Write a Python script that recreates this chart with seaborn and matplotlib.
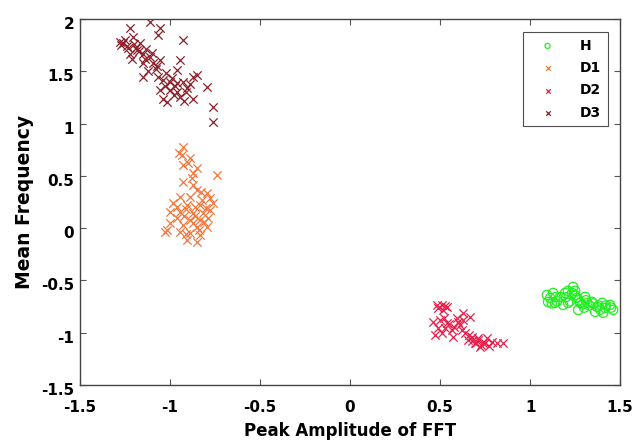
import matplotlib
matplotlib.use("Agg")
import matplotlib.pyplot as plt
import matplotlib.transforms as mtransforms
import seaborn as sns

# ---- data ----
h_x = [1.093, 1.128, 1.10, 1.139, 1.167, 1.194, 1.239, 1.233, 1.261, 1.211, 1.278, 1.267,
       1.306, 1.317, 1.344, 1.372, 1.40, 1.417, 1.444, 1.461, 1.361, 1.406, 1.183, 1.111,
       1.15, 1.20, 1.22, 1.25, 1.27, 1.29, 1.31, 1.33, 1.35, 1.38, 1.42, 1.45, 1.25, 1.21,
       1.14, 1.30, 1.39, 1.12]
h_y = [-0.639, -0.62, -0.706, -0.715, -0.658, -0.62, -0.562, -0.62, -0.667, -0.715, -0.715, -0.782,
       -0.658, -0.715, -0.706, -0.753, -0.715, -0.763, -0.734, -0.782, -0.80, -0.81, -0.734, -0.667,
       -0.70, -0.66, -0.70, -0.64, -0.69, -0.73, -0.69, -0.74, -0.72, -0.74, -0.74, -0.76, -0.60, -0.60,
       -0.66, -0.76, -0.78, -0.72]

d1_x = [-0.928, -0.933, -0.889, -0.928, -0.85, -0.872, -0.739, -0.928, -0.872, -0.85, -0.794, -0.778,
        -0.944, -0.983, -0.906, -0.833, -0.761, -1.0, -0.944, -0.872, -0.817, -0.961, -0.889, -0.833,
        -0.789, -1.0, -0.928, -0.85, -0.794, -1.017, -0.944, -0.889, -0.833, -0.906, -0.85,
        -0.91, -0.86, -0.82, -0.80, -0.87, -0.92, -0.96, -0.84, -0.81, -0.89, -0.91, -0.86, -0.78,
        -0.83, -0.88, -0.90, -0.95, -1.03]
d1_y = [0.779, 0.70, 0.67, 0.60, 0.575, 0.53, 0.51, 0.44, 0.41, 0.365, 0.34, 0.29,
        0.30, 0.24, 0.22, 0.22, 0.24, 0.155, 0.155, 0.145, 0.145, 0.10, 0.08, 0.08,
        0.10, 0.05, 0.03, 0.01, 0.01, -0.02, -0.04, -0.05, -0.07, -0.11, -0.13,
        0.18, 0.20, 0.27, 0.19, 0.05, 0.12, 0.20, -0.02, 0.06, 0.30, -0.06, 0.12, 0.17,
        0.35, 0.48, 0.62, 0.72, -0.04]

d2_x = [0.481, 0.511, 0.539, 0.517, 0.461, 0.50, 0.539, 0.489, 0.528, 0.472, 0.511, 0.567,
        0.594, 0.628, 0.667, 0.611, 0.639, 0.678, 0.711, 0.694, 0.739, 0.761, 0.789, 0.817,
        0.85, 0.722, 0.656, 0.572,
        0.49, 0.53, 0.52, 0.55, 0.58, 0.62, 0.68, 0.70, 0.73, 0.75, 0.71, 0.66, 0.60, 0.63, 0.77]
d2_y = [-0.734, -0.734, -0.753, -0.782, -0.897, -0.878, -0.906, -0.954, -0.954, -1.02, -1.0, -0.973,
        -0.859, -0.811, -0.85, -0.925, -1.0, -1.04, -1.07, -1.10, -1.10, -1.05, -1.09, -1.10,
        -1.10, -1.135, -1.07, -1.04,
        -0.76, -0.74, -0.86, -0.92, -0.95, -0.97, -1.08, -1.10, -1.12, -1.10, -1.05, -1.02, -0.90, -0.88, -1.13]

d3_x = [-1.222, -1.111, -1.056, -1.067, -0.928, -1.278, -1.26, -1.206, -1.167, -1.183, -1.15, -1.111,
        -1.22, -1.15, -1.15, -1.094, -1.056, -0.944, -0.961, -1.067, -1.039, -1.0, -0.961, -0.872,
        -0.85, -0.906, -1.0, -1.056, -1.039, -1.017, -0.944, -0.872, -0.794, -0.761, -0.761,
        -1.24, -1.20, -1.19, -1.23, -1.17, -1.13, -1.10, -1.14, -1.08, -1.02, -0.99, -0.97, -0.93,
        -0.91, -0.96, -0.89, -1.03, -1.25, -1.27, -1.21, -1.07, -1.12, -0.98, -0.92]
d3_y = [1.911, 1.975, 1.91, 1.847, 1.80, 1.783, 1.767, 1.83, 1.767, 1.704, 1.67, 1.64,
        1.67, 1.576, 1.45, 1.576, 1.61, 1.61, 1.51, 1.45, 1.42, 1.40, 1.385, 1.45,
        1.465, 1.337, 1.32, 1.32, 1.24, 1.21, 1.257, 1.24, 1.353, 1.16, 1.018,
        1.74, 1.76, 1.72, 1.72, 1.69, 1.71, 1.68, 1.62, 1.52, 1.48, 1.44, 1.36, 1.40,
        1.30, 1.30, 1.38, 1.36, 1.80, 1.75, 1.62, 1.55, 1.50, 1.27, 1.22]

x_ticks = [-1.5, -1, -0.5, 0, 0.5, 1, 1.5]
x_tick_labels = ["-1.5", "-1", "-0.5", "0", "0.5", "1", "1.5"]
y_ticks = [-1.5, -1, -0.5, 0, 0.5, 1, 1.5, 2]
y_tick_labels = ["-1.5", "-1", "-0.5", "0", "0.5", "1", "1.5", "2"]

# ---- plot ----
sns.set_style("ticks")
plt.rcParams["font.family"] = ["DejaVu Sans"]
plt.rcParams["font.weight"] = "bold"
plt.rcParams["text.color"] = "black"
plt.rcParams["axes.labelcolor"] = "black"
plt.rcParams["xtick.color"] = "black"
plt.rcParams["ytick.color"] = "black"

fig = plt.figure(figsize=(6.44, 4.44), dpi=100)
ax = fig.add_axes([0.124, 0.133, 0.839, 0.824])

green = "#22ee22"
orange = "#f2763a"
crimson = "#e8204a"
darkred = "#8c1f2a"

sns.scatterplot(x=h_x, y=h_y, ax=ax, marker="o", s=45, facecolors="none",
                edgecolor=green, linewidth=0.9, label="H")
sns.scatterplot(x=d1_x, y=d1_y, ax=ax, marker="x", s=36, color=orange,
                linewidth=0.9, label="D1")
sns.scatterplot(x=d2_x, y=d2_y, ax=ax, marker="x", s=36, color=crimson,
                linewidth=0.9, label="D2")
sns.scatterplot(x=d3_x, y=d3_y, ax=ax, marker="x", s=36, color=darkred,
                linewidth=0.9, label="D3")

ax.set_xlim(-1.5, 1.5)
ax.set_ylim(-1.5, 2)
ax.set_xticks(x_ticks)
ax.set_xticklabels(x_tick_labels, fontsize=11, fontweight="bold")
ax.set_yticks(y_ticks)
ax.set_yticklabels(y_tick_labels, fontsize=11, fontweight="bold")
ax.tick_params(direction="in", length=4, width=0.8, color="#555555",
               labelcolor="black", top=True, right=True)
ax.tick_params(axis="x", pad=11)
ax.tick_params(axis="y", pad=4)
# y tick labels sit slightly below their ticks in the reference
offset = mtransforms.ScaledTranslation(0, -4 / 100, fig.dpi_scale_trans)
for lab in ax.get_yticklabels():
    lab.set_transform(lab.get_transform() + offset)
for sp in ax.spines.values():
    sp.set_visible(True)
    sp.set_color("#444444")
    sp.set_linewidth(1.0)

ax.set_xlabel("Peak Amplitude of FFT", fontsize=12, fontweight="bold", labelpad=5)
ax.set_ylabel("Mean Frequency", fontsize=13.5, fontweight="bold", labelpad=5)

leg = ax.legend(loc="upper right", fontsize=10, frameon=True, fancybox=False,
                borderaxespad=0.9, handletextpad=1.0, labelspacing=0.6,
                markerscale=0.55, borderpad=0.5, handlelength=2.6)
leg.get_frame().set_edgecolor("#222222")
leg.get_frame().set_linewidth(0.8)
for t in leg.get_texts():
    t.set_fontweight("bold")

fig.savefig("out.png", dpi=100)
